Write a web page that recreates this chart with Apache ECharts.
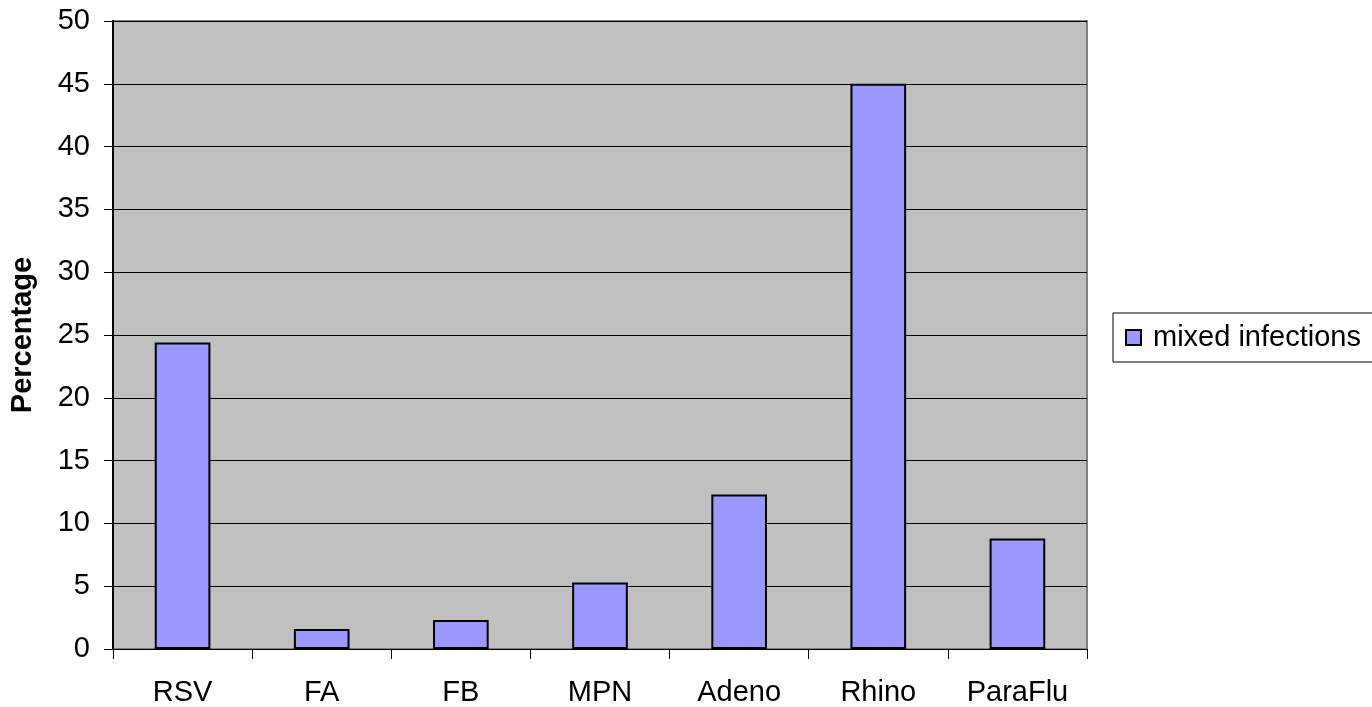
<!DOCTYPE html>
<html>
<head>
<meta charset="utf-8">
<script src="https://cdn.jsdelivr.net/npm/echarts@6/dist/echarts.min.js"></script>
<style>
  html, body { margin: 0; padding: 0; background: #ffffff; }
  #chart { width: 1372px; height: 707px; }
</style>
</head>
<body>
<div id="chart"></div>
<script>
// Virus categories along the x axis
const categories = ['RSV', 'FA', 'FB', 'MPN', 'Adeno', 'Rhino', 'ParaFlu'];
// Share of mixed infections per virus (%)
const mixedInfections = [24.4, 1.6, 2.3, 5.3, 12.3, 45.0, 8.8];
// Y axis range
const yMin = 0;
const yMax = 50;
const yStep = 5;

const FONT = '"Liberation Sans", Arial, sans-serif';
const FONT_SIZE = 29;

const chart = echarts.init(document.getElementById('chart'), null, { renderer: 'canvas' });

chart.setOption({
  animation: false,
  backgroundColor: '#ffffff',
  textStyle: { fontFamily: FONT },
  grid: {
    left: 112,
    top: 21,
    right: 285,
    bottom: 58,
    show: true,
    backgroundColor: '#C0C0C0',
    borderColor: '#808080',
    borderWidth: 2
  },
  legend: {
    show: true,
    left: 1113,
    top: 313,
    orient: 'vertical',
    backgroundColor: '#ffffff',
    borderColor: '#000000',
    borderWidth: 1,
    borderRadius: 0,
    padding: [10, 40, 10, 12],
    itemWidth: 15,
    itemHeight: 15,
    icon: 'rect',
    itemStyle: { color: '#9999FF', borderColor: '#000000', borderWidth: 2 },
    textStyle: { fontSize: FONT_SIZE, color: '#000000', fontFamily: FONT, padding: [0, 0, 0, 7] },
    data: ['mixed infections']
  },
  xAxis: {
    type: 'category',
    data: categories,
    boundaryGap: true,
    axisLine: { show: true, lineStyle: { color: '#000000', width: 1 } },
    axisTick: { show: true, length: 10, lineStyle: { color: '#000000', width: 1 } },
    axisLabel: { fontSize: FONT_SIZE, color: '#000000', margin: 29, fontFamily: FONT },
    splitLine: { show: false }
  },
  yAxis: {
    type: 'value',
    min: yMin,
    max: yMax,
    interval: yStep,
    name: 'Percentage',
    nameLocation: 'middle',
    nameGap: 76,
    nameRotate: 90,
    nameTextStyle: { fontSize: FONT_SIZE, fontWeight: 'bold', color: '#000000', fontFamily: FONT },
    axisLine: { show: true, lineStyle: { color: '#000000', width: 2 } },
    axisTick: { show: true, length: 9, lineStyle: { color: '#000000', width: 1 } },
    axisLabel: { fontSize: FONT_SIZE, color: '#000000', margin: 23, fontFamily: FONT },
    splitLine: { show: true, lineStyle: { color: '#000000', width: 1 } }
  },
  series: [{
    name: 'mixed infections',
    type: 'bar',
    data: mixedInfections,
    barCategoryGap: '60%',
    itemStyle: { color: '#9999FF', borderColor: '#000000', borderWidth: 2 }
  }]
});
</script>
</body>
</html>
